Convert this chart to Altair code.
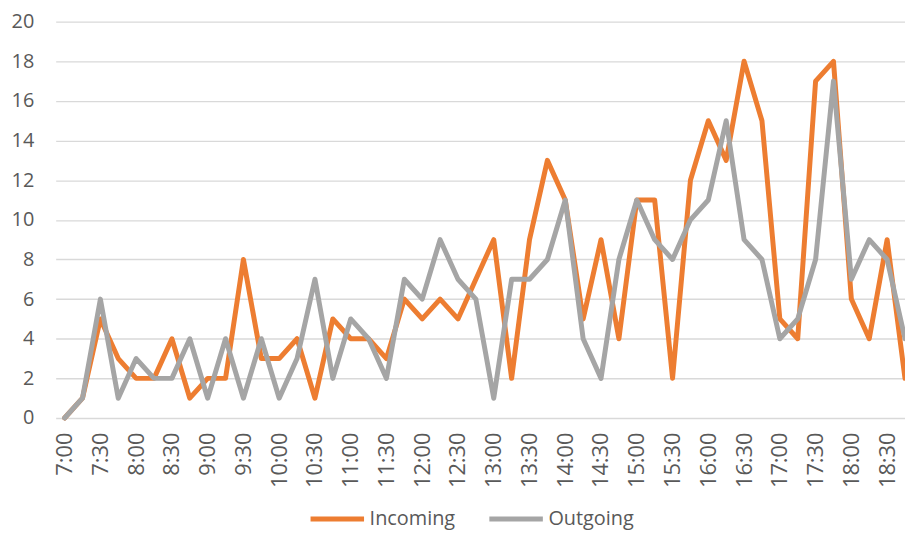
import json
import altair as alt
import pandas as pd

times = ["7:00", "7:15", "7:30", "7:45", "8:00", "8:15", "8:30", "8:45",
         "9:00", "9:15", "9:30", "9:45", "10:00", "10:15", "10:30", "10:45",
         "11:00", "11:15", "11:30", "11:45", "12:00", "12:15", "12:30", "12:45",
         "13:00", "13:15", "13:30", "13:45", "14:00", "14:15", "14:30", "14:45",
         "15:00", "15:15", "15:30", "15:45", "16:00", "16:15", "16:30", "16:45",
         "17:00", "17:15", "17:30", "17:45", "18:00", "18:15", "18:30", "18:45"]
incoming = [0, 1, 5, 3, 2, 2, 4, 1, 2, 2, 8, 3, 3, 4, 1, 5, 4, 4, 3, 6,
            5, 6, 5, 7, 9, 2, 9, 13, 11, 5, 9, 4, 11, 11, 2, 12, 15, 13, 18, 15,
            5, 4, 17, 18, 6, 4, 9, 2]
outgoing = [0, 1, 6, 1, 3, 2, 2, 4, 1, 4, 1, 4, 1, 3, 7, 2, 5, 4, 2, 7,
            6, 9, 7, 6, 1, 7, 7, 8, 11, 4, 2, 8, 11, 9, 8, 10, 11, 15, 9, 8,
            4, 5, 8, 17, 7, 9, 8, 4]
series_names = ["Incoming", "Outgoing"]
series_colors = ["#ED7D31", "#A5A5A5"]
y_ticks = list(range(0, 21, 2))

rows = []
for i, t in enumerate(times):
    rows.append({"idx": i, "time": t, "series": "Incoming", "value": incoming[i]})
    rows.append({"idx": i, "time": t, "series": "Outgoing", "value": outgoing[i]})
df = pd.DataFrame(rows)

label_expr = json.dumps(times) + "[datum.value]"
narrow = "'Liberation Sans Narrow', 'Arial Narrow', 'Open Sans', sans-serif"

chart = alt.Chart(df).mark_line(
    strokeWidth=5, strokeJoin="round", strokeCap="round"
).encode(
    x=alt.X("idx:Q",
            scale=alt.Scale(domain=[-0.5, 47], nice=False, zero=False),
            axis=alt.Axis(values=list(range(0, 48, 2)), labelExpr=label_expr,
                          labelAngle=-90, grid=False, ticks=False, domain=False,
                          title=None, labelPadding=14, labelFontSize=22,
                          labelColor="#595959", labelFont=narrow)),
    y=alt.Y("value:Q",
            scale=alt.Scale(domain=[0, 20], nice=False),
            axis=alt.Axis(values=y_ticks, ticks=False, domain=False, title=None,
                          gridColor="#d9d9d9", gridWidth=1.4, labelPadding=22,
                          labelFontSize=20, labelColor="#595959",
                          labelFont="Open Sans")),
    color=alt.Color("series:N",
                    scale=alt.Scale(domain=series_names, range=series_colors),
                    legend=alt.Legend(title=None, orient="none", direction="horizontal",
                                      legendX=254, legendY=471,
                                      symbolType="stroke", symbolSize=2900,
                                      symbolStrokeWidth=5, labelFontSize=20,
                                      labelColor="#595959", labelOffset=3,
                                      columnPadding=23,
                                      labelFont="Open Sans")),
).properties(
    width=855,
    height=399,
    autosize=alt.AutoSizeParams(type="none"),
    padding={"left": 48, "top": 12, "right": 0, "bottom": 112},
).configure_view(stroke=None)

chart.save("out.html", embed_options={"renderer": "svg", "actions": False})
